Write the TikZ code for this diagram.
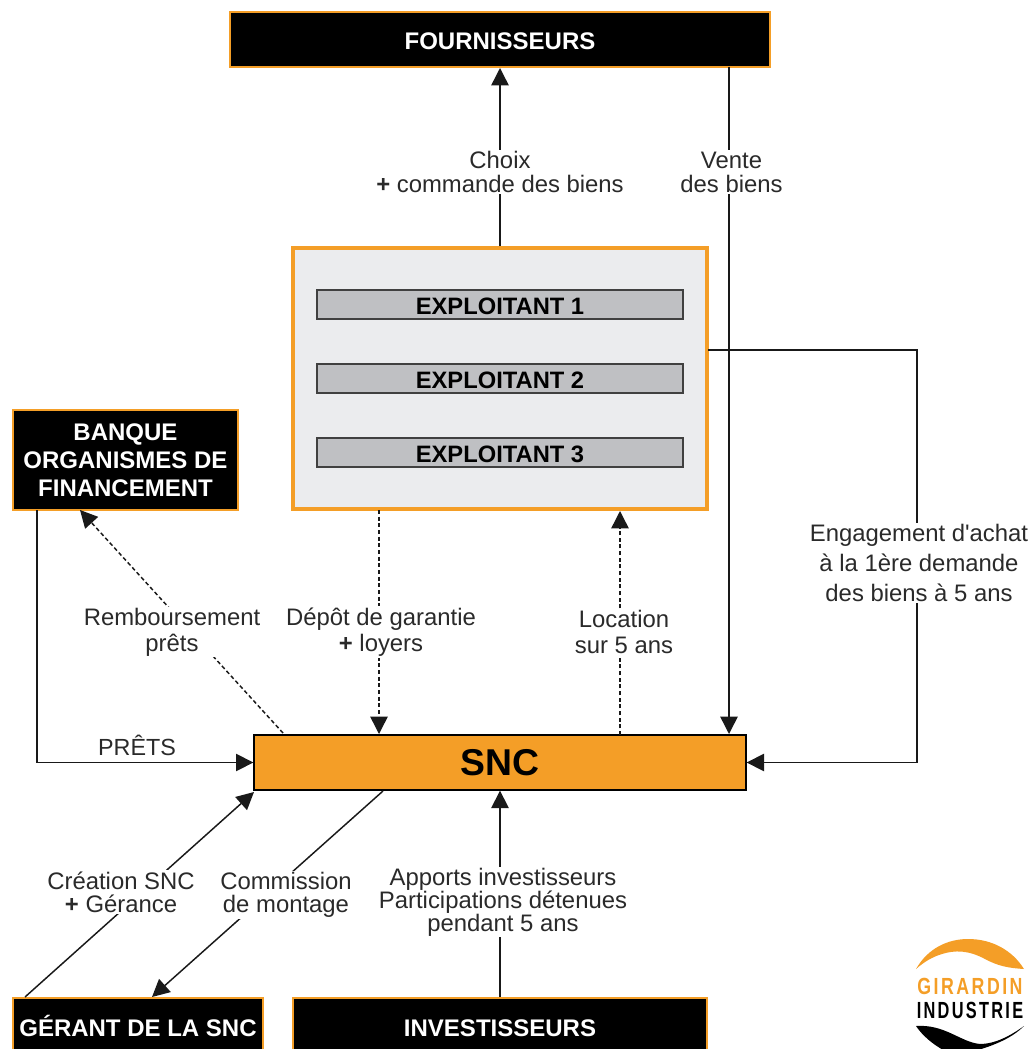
\documentclass[tikz,border=0pt]{standalone}
\usepackage{fontspec}
\setmainfont{Liberation Sans}
\newfontfamily\plainfont{Liberation Sans}
\usetikzlibrary{arrows.meta}
\definecolor{orangeG}{HTML}{F49E27}
\definecolor{greyBox}{HTML}{EBECEE}
\definecolor{greyBar}{HTML}{BFC0C3}
\definecolor{inkG}{HTML}{2A2A2A}
\tikzset{
  blackbox/.style={draw=orangeG,line width=1.5pt,fill=black,text=white,inner sep=0pt,align=center,
    font=\bfseries\fontsize{18}{21}\selectfont},
  onerow/.style={text height=14.5pt,text depth=0pt},
  bar/.style={onerow,draw=black!75,line width=1pt,fill=greyBar,text=black,inner sep=0pt,
    minimum width=274.5pt,minimum height=21.75pt,font=\bfseries\fontsize{17.8}{20}\selectfont},
  lbl/.style={fill=white,text=inkG,inner sep=1pt,align=center,font=\fontsize{17.9}{18}\selectfont},
  lblwide/.style={lbl,font=\fontsize{17.9}{19.5}\selectfont},
  lbltight/.style={lbl,font=\fontsize{17.9}{17}\selectfont},
  lblopen/.style={lbl,font=\fontsize{17.9}{22.5}\selectfont},
  lblapp/.style={lbl,font=\fontsize{17.9}{17.25}\selectfont},
  link/.style={draw=black!90,line width=1.1pt,-{Triangle[length=13pt,width=13pt]}},
  dashlink/.style={link,dash pattern=on 3pt off 2pt},
}
\begin{document}
\begin{tikzpicture}[x=0.75pt,y=-0.75pt]
        \useasboundingbox (0,0) rectangle (1032,1049);
        \clip (0,0) rectangle (1032,1049);
        % boxes
        \node[blackbox,onerow,minimum width=405pt,minimum height=41.25pt] (FOURN) at (500,39.5) {FOURNISSEURS};
        \node[draw=orangeG,line width=3pt,fill=greyBox,inner sep=0pt,minimum width=310.5pt,minimum height=195.75pt] (EXPL) at (500,378.5) {};
        \node[bar] (EX1) at (500,304.5) {EXPLOITANT 1};
        \node[bar] (EX2) at (500,378.5) {EXPLOITANT 2};
        \node[bar] (EX3) at (500,452.5) {EXPLOITANT 3};
        \node[blackbox,minimum width=168.75pt,minimum height=75pt] (BANK) at (125.5,460) {BANQUE\\ORGANISMES DE\\FINANCEMENT};
        \node[draw=black,line width=1pt,fill=orangeG,inner sep=0pt,minimum width=369pt,minimum height=41.25pt,font=\bfseries\fontsize{28}{30}\selectfont] (SNC) at (500,762.5) {SNC};
        \node[blackbox,onerow,minimum width=187.5pt,minimum height=43.5pt] (GER) at (138,1027) {GÉRANT DE LA SNC};
        \node[blackbox,onerow,minimum width=310.5pt,minimum height=43.5pt] (INV) at (500,1027) {INVESTISSEURS};
        % connector ends
        \coordinate (venteA) at (729,67);
        \coordinate (venteB) at (729,734);
        \coordinate (depotA) at (379,510);
        \coordinate (depotB) at (379,734);
        \coordinate (locA) at (620,735);
        \coordinate (locB) at (620,511);
        \coordinate (rembA) at (283,733);
        \coordinate (rembB) at (80,510);
        \coordinate (pretA) at (37,510);
        \coordinate (pretC) at (37,762.5);
        \coordinate (engA) at (708,350);
        \coordinate (engB) at (917,350);
        \coordinate (engC) at (917,762.5);
        \coordinate (creaA) at (25,997);
        \coordinate (creaB) at (254,792);
        \coordinate (comA) at (383,791);
        \coordinate (comB) at (152,997);
        \path
          (EXPL.north) edge[link] (FOURN.south)
          (venteA) edge[link] (venteB)
          (INV.north) edge[link] (SNC.south)
          (creaA) edge[link] (creaB)
          (comA) edge[link] (comB)
          (depotA) edge[dashlink] (depotB)
          (locA) edge[dashlink] (locB)
          (rembA) edge[dashlink] (rembB)
          ;
        \draw[link] (pretA) -- (pretC) -- (SNC.west);
        \draw[link] (engA) -- (engB) -- (engC) -- (SNC.east);
        % labels
        \node[lbl] (lChoix) at (500,172) {Choix\\\textbf{+} commande des biens};
        \node[lbl] (lVente) at (731.5,172) {Vente\\des biens};
        \node[lblopen] (lEng) at (919,563) {Engagement d{\plainfont '}achat\\à la 1ère demande\\des biens à 5 ans};
        \node[lblwide] (lRemb) at (172,632) {Remboursement\\prêts};
        \node[lblwide] (lDepot) at (381,632) {Dépôt de garantie\\\textbf{+} loyers};
        \node[lblwide] (lLoc) at (624,632) {Location\\sur 5 ans};
        \node[text=inkG,inner sep=0pt,font=\fontsize{17.5}{18}\selectfont] (lPret) at (137,745) {PRÊTS};
        \node[lbltight] (lCrea) at (121,892) {Création SNC\\\textbf{+} Gérance};
        \node[lbltight] (lCom) at (286,895) {Commission\\de montage};
        \node[lblapp] (lApp) at (503,902) {Apports investisseurs\\Participations détenues\\pendant 5 ans};
        % logo
        \fill[orangeG] (916,969) .. controls (928,948) and (948,939) .. (968,939) .. controls (992,939) and (1012,950) .. (1024,969) .. controls (1008,968) and (998,966) .. (985,959) .. controls (968,950) and (955,950) .. (942,954) .. controls (932,957) and (924,962) .. (916,969) -- cycle;
        \fill[black] (916,1026) .. controls (922,1035) and (932,1044) .. (945,1051) -- (975,1051) .. controls (995,1045) and (1012,1038) .. (1024,1026) .. controls (1010,1036) and (995,1044) .. (980,1044) .. controls (960,1042) and (945,1024) .. (916,1026) -- cycle;
        \node[inner sep=0pt,text=orangeG,xscale=.76,font=\bfseries\fontsize{17.5}{18}\selectfont\addfontfeature{LetterSpace=14}] (logoA) at (970,986.5) {GIRARDIN};
        \node[inner sep=0pt,text=black,xscale=.70,font=\bfseries\fontsize{17.5}{18}\selectfont\addfontfeature{LetterSpace=14}] (logoB) at (970,1010) {INDUSTRIE};
\end{tikzpicture}
\end{document}
